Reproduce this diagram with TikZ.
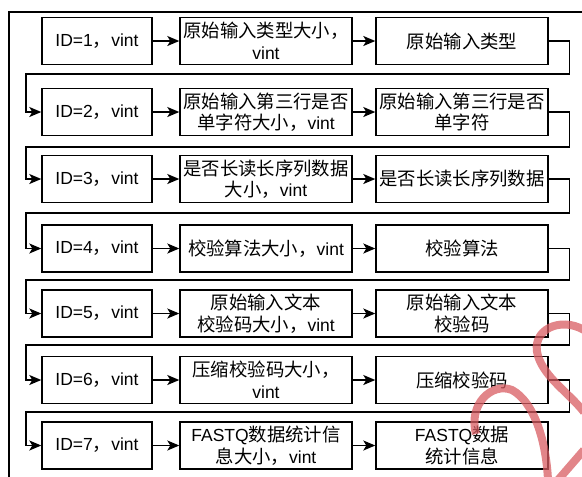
\documentclass[tikz,border=0pt]{standalone}
\usepackage{fontspec}
\setmainfont{Liberation Sans}
\newfontfamily\cjk[Scale=1.05]{Noto Sans CJK SC}
\usetikzlibrary{arrows.meta}
\definecolor{wm}{RGB}{216,92,98}
\begin{document}
\begin{tikzpicture}[x=1pt,y=-1pt,
  box/.style={draw, line width=1.4pt, minimum height=47pt, inner sep=0pt, align=center,
    font=\fontsize{17.5}{21.5}\selectfont},
  idbox/.style={box, minimum width=110pt},
  wbox/.style={box, minimum width=172pt},
  conn/.style={line width=1.4pt, -{Stealth[length=12pt,width=10pt,inset=3pt]}},
  frame/.style={line width=1.4pt},
  wmark/.style={wm, line width=8pt, opacity=0.75}]
\useasboundingbox (0,0) rectangle (582,477);
% frame (partly cut off)
\coordinate (fa) at (9,477);
\coordinate (fb) at (9,12);
\coordinate (fc) at (582,12);
\draw[frame] (fa) -- (fb) -- (fc);

% rows
\foreach \i/\y/\mid/\rgt in {
  1/41/{\cjk 原始输入类型大小，}\\vint/{\cjk 原始输入类型},
  2/112/{\cjk 原始输入第三行是否}\\{\cjk 单字符大小，}vint/{\cjk 原始输入第三行是否}\\{\cjk 单字符},
  3/179/{\cjk 是否长读长序列数据}\\{\cjk 大小，}vint/{\cjk 是否长读长序列数据},
  4/248.5/{\cjk 校验算法大小，}vint/{\cjk 校验算法},
  5/313.5/{\cjk 原始输入文本}\\{\cjk 校验码大小，}vint/{\cjk 原始输入文本}\\{\cjk 校验码},
  6/380/{\cjk 压缩校验码大小，}\\vint/{\cjk 压缩校验码},
  7/445.5/FASTQ{\cjk 数据统计信}\\{\cjk 息大小，}vint/FASTQ{\cjk 数据}\\{\cjk 统计信息}}{
  \node[idbox] (id\i) at (97,\y) {ID=\i{\cjk ，}vint};
  \node[wbox] (m\i) at (266,\y) {\mid};
  \node[wbox] (r\i) at (462,\y) {\rgt};
  \draw[conn] (id\i) -- (m\i);
  \draw[conn] (m\i) -- (r\i);
}

% return connectors
\foreach \a/\b/\yy in {1/2/74, 2/3/147, 3/4/213, 4/5/280, 5/6/345, 6/7/412}{
  \draw[conn] (r\a.east) -- ++(21,0) |- (26,\yy) |- (id\b.west);
}

% watermark strokes
\draw[wmark] (584,330) .. controls (560,316) and (530,330) .. (538,356)
  .. controls (545,378) and (568,392) .. (584,412);
\draw[wmark] (476,434) .. controls (468,404) and (492,382) .. (512,390)
  .. controls (534,402) and (546,440) .. (548,480);
\draw[wmark] (584,450) -- (558,480);
\end{tikzpicture}
\end{document}
